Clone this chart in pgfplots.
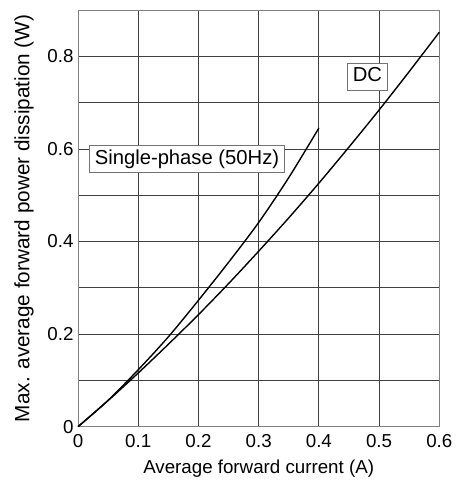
\documentclass[border=0pt]{standalone}
\usepackage{pgfplots}
\pgfplotsset{compat=1.18}
\usepackage{fontspec}
\setmainfont{Liberation Sans}
\newcommand\ff{\fontsize{18.8}{22}\selectfont}
\newcommand\fb{\fontsize{20.3}{24}\selectfont}
\newcommand\fy{\fontsize{20.8}{24}\selectfont}
\begin{document}
\begin{tikzpicture}
\begin{axis}[
  scale only axis,
  width=361.3bp, height=416.7bp,
  xmin=0, xmax=0.6, ymin=0, ymax=0.9,
  xtick={0,0.1,...,0.6},
  xticklabels={0,0.1,0.2,0.3,0.4,0.5,0.6},
  ytick={0,0.1,...,0.9},
  yticklabels={0,,0.2,,0.4,,0.6,,0.8,},
  grid=major,
  major grid style={line width=0.8pt, color=black!75},
  axis line style={line width=1pt, color=black!50},
  major tick length=0pt,
  tick label style={font=\ff},
  xlabel style={font=\ff, yshift=-6bp},
  ylabel style={font=\fy, yshift=7bp},
  /pgf/number format/assume math mode=true,
  xticklabel style={yshift=-4bp},
  yticklabel style={xshift=-1bp},
  xlabel={Average forward current (A)},
  ylabel={Max. average forward power dissipation (W)},
  clip=false,
]
\addplot[black, line width=1.4pt, smooth] coordinates {
(0,0) (0.05,0.0565) (0.1,0.116) (0.15,0.178) (0.2,0.242) (0.25,0.309) (0.3,0.379) (0.35,0.451) (0.4,0.526) (0.45,0.604) (0.5,0.684) (0.55,0.767) (0.6,0.852)};
\addplot[black, line width=1.4pt, smooth] coordinates {
(0,0) (0.05,0.057) (0.1,0.123) (0.15,0.194) (0.2,0.273) (0.25,0.355) (0.3,0.441) (0.35,0.538) (0.4,0.645)};
\node[draw=black!55, fill=white, line width=0.8pt, inner xsep=5bp, inner ysep=3.6bp, text height=15bp, text depth=4.5bp, font=\fb] at (axis cs:0.181,0.578) {Single-phase (50Hz)};
\node[draw=black!55, fill=white, line width=0.8pt, inner xsep=5.5bp, inner ysep=3.6bp, text height=15bp, text depth=4.5bp, font=\fb] at (axis cs:0.4806,0.756) {DC};
\end{axis}
\pgfresetboundingbox
\path[use as bounding box] ([xshift=-78bp,yshift=-55.3bp]current axis.south west) rectangle ([xshift=16.7bp,yshift=10bp]current axis.north east);
\end{tikzpicture}
\end{document}
